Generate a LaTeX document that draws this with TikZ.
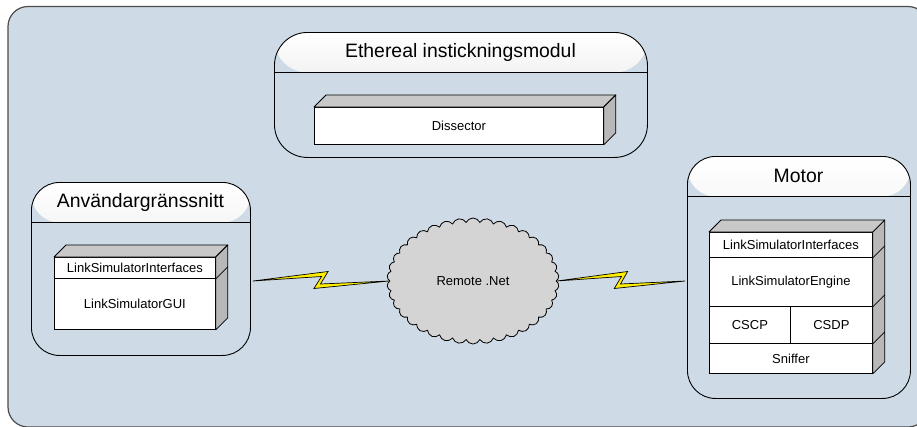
\documentclass[tikz,border=0pt]{standalone}
\usepackage{fontspec}
\setmainfont{Liberation Sans}
\usetikzlibrary{shapes.symbols,calc}
\definecolor{panel}{RGB}{206,219,230}
\definecolor{cloudgray}{RGB}{212,212,212}
\definecolor{boltyellow}{RGB}{255,238,0}
\definecolor{topface}{RGB}{200,200,200}
\definecolor{sideface}{RGB}{184,184,184}

% lightning-style communication link between two points
\newcommand\commlink[2]{%
  \filldraw[bolt] (#1)
    -- ($(#1)!0.552!(#2)+(0,-9.5)$)
    -- ($(#1)!0.496!(#2)+(0,3)$)
    -- (#2)
    -- ($(#1)!0.448!(#2)+(0,7.5)$)
    -- ($(#1)!0.504!(#2)+(0,-4.5)$)
    -- cycle;}

\begin{document}
\begin{tikzpicture}[x=1pt,y=-1pt,
  container/.style={draw=black, line width=0.9pt, anchor=north west,
    inner sep=0pt, rectangle, rounded corners=#1,
    path picture={
      \shade[top color=white, bottom color=gray!30]
        (path picture bounding box.north west) rectangle
        ([yshift=-40pt]path picture bounding box.north east);
      \draw[line width=0.9pt]
        ([yshift=-40pt]path picture bounding box.north west) --
        ([yshift=-40pt]path picture bounding box.north east);}},
  title/.style={font=\fontsize{19.4}{22}\selectfont, inner sep=0pt},
  row/.style={draw=black, fill=white, line width=0.8pt, anchor=north west,
    inner sep=0pt, font=\fontsize{13}{15}\selectfont},
  topside/.style={draw=black, fill=topface, line width=0.8pt, line join=round},
  rightside/.style={draw=black, fill=sideface, line width=0.8pt, line join=round},
  bolt/.style={draw=black, fill=boltyellow, line width=0.7pt, line join=miter},
]
\useasboundingbox (0,0) rectangle (917,426);

% panel behind everything
\begin{scope}
  \clip (0,0) rectangle (917,426);
  \draw[fill=panel, draw=black!70, line width=1.2pt, rounded corners=20]
    (8,6.5) rectangle (928,427);
\end{scope}

% ---- plug-in container ----
\node[container=33, minimum width=373, minimum height=125] (plugin) at (274,32) {};
\node[title] (plugintitle) at (460.5,52) {Ethereal instickningsmodul};
\node[row, minimum width=289, minimum height=37] (dissector) at (314,107) {Dissector};
\draw[topside] (dissector.north west) -- ++(12,-12) -- ($(dissector.north east)+(12,-12)$) -- (dissector.north east) -- cycle;
\draw[rightside] (dissector.north east) -- ++(12,-12) -- ($(dissector.south east)+(12,-12)$) -- (dissector.south east) -- cycle;

% ---- user interface container ----
\node[container=28, minimum width=219, minimum height=173] (ui) at (31,182) {};
\node[title] (uititle) at (140.5,202) {Användargränssnitt};
\node[row, minimum width=161, minimum height=21] (gifc) at (54,257) {LinkSimulatorInterfaces};
\node[row, minimum width=161, minimum height=51] (ggui) at (54,278) {LinkSimulatorGUI};
\draw[topside] (gifc.north west) -- ++(12,-12) -- ($(gifc.north east)+(12,-12)$) -- (gifc.north east) -- cycle;
\draw[rightside] (gifc.north east) -- ++(12,-12) -- ($(ggui.south east)+(12,-12)$) -- (ggui.south east) -- cycle;
\draw[line width=0.8pt] (gifc.south east) -- ++(12,-12);

% ---- engine container ----
\node[container=28, minimum width=223, minimum height=242] (motor) at (687,156) {};
\node[title] (motortitle) at (798.5,176) {Motor};
\node[row, minimum width=163, minimum height=25] (mifc) at (709,232) {LinkSimulatorInterfaces};
\node[row, minimum width=163, minimum height=49] (meng) at (709,257) {LinkSimulatorEngine};
\node[row, minimum width=81, minimum height=37] (mcscp) at (709,306) {CSCP};
\node[row, minimum width=82, minimum height=37] (mcsdp) at (790,306) {CSDP};
\node[row, minimum width=163, minimum height=30] (msniff) at (709,343) {Sniffer};
\draw[topside] (mifc.north west) -- ++(12,-12) -- ($(mifc.north east)+(12,-12)$) -- (mifc.north east) -- cycle;
\draw[rightside] (mifc.north east) -- ++(12,-12) -- ($(msniff.south east)+(12,-12)$) -- (msniff.south east) -- cycle;
\draw[line width=0.8pt] (mifc.south east) -- ++(12,-12);
\draw[line width=0.8pt] (meng.south east) -- ++(12,-12);
\draw[line width=0.8pt] (mcsdp.south east) -- ++(12,-12);

% ---- network cloud ----
\node[cloud, cloud puffs=38, cloud puff arc=130, cloud ignores aspect,
      draw=black, fill=cloudgray, line width=0.8pt,
      minimum width=172, minimum height=126, inner sep=0pt,
      font=\fontsize{13}{15}\selectfont] (net) at (473,281) {Remote .Net};

% ---- links ----
\path (ui.east |- net.west) ++(2,0) coordinate (uilink);
\path (motor.west |- net.east) ++(-2,0) coordinate (motorlink);
\commlink{uilink}{net.west}
\commlink{net.east}{motorlink}

\end{tikzpicture}
\end{document}
